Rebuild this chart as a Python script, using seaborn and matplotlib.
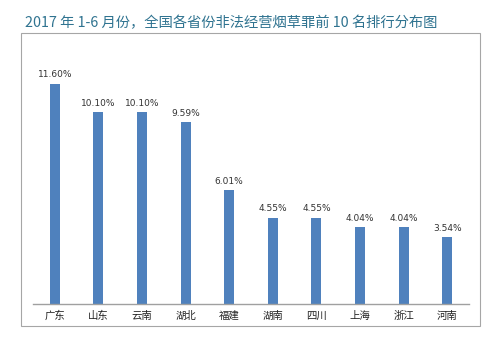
import matplotlib
matplotlib.use("Agg")
import matplotlib.pyplot as plt
import seaborn as sns
import pandas as pd
from matplotlib.patches import Rectangle

provinces = ["广东", "山东", "云南", "湖北", "福建", "湖南", "四川", "上海", "浙江", "河南"]
values = [11.60, 10.10, 10.10, 9.59, 6.01, 4.55, 4.55, 4.04, 4.04, 3.54]
title = "2017 年 1-6 月份，全国各省份非法经营烟草罪前 10 名排行分布图"

sns.set_theme(style="white")
plt.rcParams['font.family'] = ['Noto Sans CJK SC', 'DejaVu Sans']

df = pd.DataFrame({"province": provinces, "value": values})

fig = plt.figure(figsize=(5, 3.46), dpi=100)
ax = fig.add_axes([0.066, 0.1214, 0.872, 0.769])
sns.barplot(data=df, x="province", y="value", color="#4f81bd", saturation=1,
            width=0.23, linewidth=0, ax=ax)

ax.set_xlim(-0.5, 9.5)
ax.set_ylim(0, 14)
for i, v in enumerate(values):
    ax.annotate(f"{v:.2f}%", (i, v), xytext=(0, 3), textcoords="offset points",
                ha="center", va="bottom", fontsize=6.5, color="#333333",
                family=['DejaVu Sans'])

ax.set_xlabel("")
ax.set_ylabel("")
ax.set_yticks([])
ax.tick_params(axis="x", labelsize=7.5, colors="#222222", length=0, pad=5)
for s in ["left", "right", "top"]:
    ax.spines[s].set_visible(False)
ax.spines["bottom"].set_color("#a0a0a0")
ax.spines["bottom"].set_linewidth(1)
ax.patch.set_alpha(0)

fig.patches.append(Rectangle((0.042, 0.058), 0.918, 0.847, transform=fig.transFigure,
                             fill=False, edgecolor="#a6a6a6", linewidth=0.8))
fig.text(0.05, 0.935, title, fontsize=10.3, color="#2f7390", ha="left", va="center")

fig.savefig("out.png", dpi=100)
